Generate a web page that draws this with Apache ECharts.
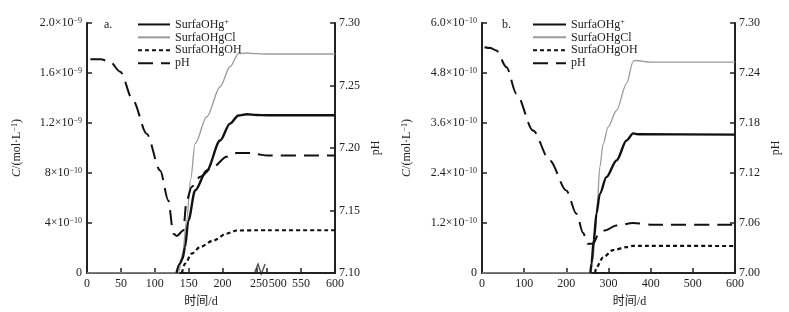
<!DOCTYPE html>
<html><head><meta charset="utf-8">
<script src="https://cdn.jsdelivr.net/npm/echarts@6/dist/echarts.min.js"></script>
<style>html,body{margin:0;padding:0;background:#fff}#c{width:789px;height:312px}</style>
</head><body><div id="c"></div>
<script>
// ---------- DATA (concentrations in units of 1e-10 mol/L) ----------
const seriesNames = ['SurfaOHg+', 'SurfaOHgCl', 'SurfaOHgOH', 'pH'];

// Panel a (time in days; the axis is broken between 250 and 500)
const a_tHg   = [132, 137, 141, 144.7, 149.6, 159.5, 176.7, 196.5, 211, 223.5, 236, 250, 500, 600];
const a_Hg    = [0, 0.75, 1.15, 2.08, 4.2, 6.6, 8.2, 10.6, 11.95, 12.6, 12.7, 12.64, 12.62, 12.62];
const a_tCl   = [0, 135, 141, 147, 153, 159.5, 176.7, 196.5, 211, 223.5, 236, 250, 500, 600];
const a_Cl    = [0, 0, 1.55, 4.2, 7.5, 10.35, 12.5, 14.9, 16.5, 17.55, 17.6, 17.55, 17.52, 17.52];
const a_tOH   = [140, 144.7, 154.6, 167, 186.6, 206, 221, 250, 500, 600];
const a_OH    = [0, 0.75, 1.55, 2.08, 2.6, 3.15, 3.4, 3.42, 3.42, 3.42];
const a_tPH   = [5, 20, 34, 49, 68, 88, 108, 120, 127.5, 132.5, 142, 147, 154.6, 167, 186.6, 206, 221, 240, 250, 500, 600];
const a_PH    = [7.271, 7.271, 7.269, 7.261, 7.238, 7.2115, 7.182, 7.158, 7.1315, 7.1296, 7.134, 7.158, 7.169, 7.177, 7.185, 7.193, 7.196, 7.196, 7.195, 7.194, 7.194];

// Panel b
const b_tHg   = [257, 259.7, 265, 271.5, 279.4, 295, 319, 342.8, 358.5, 370, 600];
const b_Hg    = [0, 0.23, 0.79, 1.43, 1.9, 2.3, 2.7, 3.18, 3.35, 3.33, 3.32];
const b_tCl   = [0, 258, 263, 267.6, 273, 279.4, 287.4, 299, 319, 342.8, 358.5, 365, 400, 600];
const b_Cl    = [0, 0, 0.3, 0.79, 1.6, 2.54, 3.1, 3.5, 3.9, 4.55, 5.08, 5.1, 5.06, 5.06];
const b_tOH   = [268, 271.6, 287.4, 311, 342.8, 358, 600];
const b_OH    = [0, 0.14, 0.38, 0.55, 0.62, 0.65, 0.648];
const b_tPH   = [6, 20, 34, 58, 81.7, 121, 160.7, 200, 224, 240, 250, 263, 276, 291, 319, 358.6, 400, 600];
const b_PH    = [7.271, 7.270, 7.267, 7.247, 7.215, 7.171, 7.135, 7.099, 7.071, 7.048, 7.035, 7.035, 7.046, 7.051, 7.057, 7.060, 7.058, 7.058];

// Tick values / labels
const a_xTicks = [0, 50, 100, 150, 200, 250, 500, 550, 600];
const b_xTicks = [0, 100, 200, 300, 400, 500, 600];
const a_yTicks = [0, 4, 8, 12, 16, 20];
const a_yLabels = ['0', '4×10{s|−10}', '8×10{s|−10}', '1.2×10{s|−9}', '1.6×10{s|−9}', '2.0×10{s|−9}'];
const b_yTicks = [0, 1.2, 2.4, 3.6, 4.8, 6.0];
const b_yLabels = ['0', '1.2×10{s|−10}', '2.4×10{s|−10}', '3.6×10{s|−10}', '4.8×10{s|−10}', '6.0×10{s|−10}'];
const a_pHTicks = [7.10, 7.15, 7.20, 7.25, 7.30];
const b_pHTicks = [7.00, 7.06, 7.12, 7.18, 7.24, 7.30];

// Broken axis in panel a: days 250..500 are compressed to a small gap
const BREAK_FROM = 250, BREAK_TO = 500, BREAK_GAP = 16;
const uA = t => t <= BREAK_FROM ? t : t - (BREAK_TO - BREAK_FROM) + BREAK_GAP;
const BREAK_MARK = BREAK_FROM + BREAK_GAP * 0.3;

// ---------- CHART ----------
const FONT = '"Liberation Serif", "Times New Roman", "Noto Sans CJK SC", serif';
const TXT = '#222';
const zipA = (ts, vs) => ts.map((t, i) => [uA(t), vs[i]]);
const zip = (ts, vs) => ts.map((t, i) => [t, vs[i]]);

const styles = {
  'SurfaOHg+': {color: '#111', width: 2.4, type: 'solid'},
  'SurfaOHgCl': {color: '#9a9a9a', width: 1.3, type: 'solid'},
  'SurfaOHgOH': {color: '#111', width: 2.2, type: [4, 3]},
  'pH': {color: '#111', width: 2, type: [15, 8]}
};
function line(name, data, xi, yi) {
  const s = styles[name];
  return {
    name, type: 'line', data, xAxisIndex: xi, yAxisIndex: yi,
    symbol: 'none', smooth: 0.3, smoothMonotone: 'x', silent: true,
    lineStyle: {color: s.color, width: s.width, type: s.type},
    itemStyle: {color: s.color}, z: name === 'SurfaOHgCl' ? 2 : 3
  };
}
const supStyle = {fontSize: 8, fontFamily: FONT, color: TXT, verticalAlign: 'top', lineHeight: 8};
function pickIdx(ticks, v) {
  let best = 0;
  ticks.forEach((t, i) => { if (Math.abs(t - v) < Math.abs(ticks[best] - v)) best = i; });
  return best;
}
function leftY(grid, ticks, labels, max, interval) {
  return {
    type: 'value', gridIndex: grid, position: 'left', min: 0, max, interval,
    name: '{i|C}/(mol·L{s|−1})', nameLocation: 'middle', nameGap: grid === 0 ? 64 : 69,
    nameTextStyle: {fontFamily: FONT, fontSize: 12, color: TXT,
      rich: {i: {fontStyle: 'italic', fontFamily: FONT, fontSize: 12, color: TXT}, s: supStyle}},
    axisLine: {show: true, lineStyle: {color: TXT, width: 2}},
    axisTick: {show: true, inside: true, length: 5, lineStyle: {color: TXT, width: 1.5}, customValues: ticks},
    axisLabel: {customValues: ticks, margin: 5, fontFamily: FONT, fontSize: 12, color: TXT,
      formatter: v => labels[pickIdx(ticks, v)], rich: {s: supStyle}},
    splitLine: {show: false}
  };
}
function rightY(grid, ticks, min, max) {
  return {
    type: 'value', gridIndex: grid, position: 'right', min, max,
    name: 'pH', nameLocation: 'middle', nameGap: 35,
    nameTextStyle: {fontFamily: FONT, fontSize: 12, color: TXT},
    axisLine: {show: true, lineStyle: {color: TXT, width: 2}},
    axisTick: {show: true, inside: true, length: 5, lineStyle: {color: TXT, width: 1.5}, customValues: ticks},
    axisLabel: {customValues: ticks, margin: 4, fontFamily: FONT, fontSize: 12, color: TXT, formatter: v => v.toFixed(2)},
    splitLine: {show: false}
  };
}
function xAx(grid, ticksU, labels, max, padName, labelFmt) {
  return {
    type: 'value', gridIndex: grid, min: 0, max,
    name: '时间/d', nameLocation: 'middle', nameGap: 23,
    nameTextStyle: {fontFamily: FONT, fontSize: 12, color: TXT, padding: padName},
    axisLine: {show: true, onZero: false, lineStyle: {color: TXT, width: 2}},
    axisTick: {show: true, inside: true, length: 5, lineStyle: {color: TXT, width: 1.5}, customValues: ticksU},
    axisLabel: {customValues: ticksU, margin: 5, fontFamily: FONT, fontSize: 12, color: TXT, hideOverlap: false,
      formatter: v => labelFmt(labels[pickIdx(ticksU, v)]),
      rich: {l: {fontFamily: FONT, fontSize: 12, color: TXT, padding: [0, 0, 0, 5]},
             r: {fontFamily: FONT, fontSize: 12, color: TXT, padding: [0, 0, 0, 21]}}},
    splitLine: {show: false}
  };
}
function legend(left, w) {
  return {
    left, top: 13, orient: 'vertical', itemWidth: w, itemHeight: 12.9, itemGap: 0,
    data: seriesNames, selectedMode: false,
    itemStyle: {opacity: 0},
    textStyle: {fontFamily: FONT, fontSize: 12, color: TXT, lineHeight: 12.9, rich: {s: supStyle}},
    formatter: n => n === 'SurfaOHg+' ? 'SurfaOHg{s|+}' : n
  };
}

const option = {
  animation: false,
  backgroundColor: '#fff',
  textStyle: {fontFamily: FONT},
  title: [
    {text: 'a.', left: 99, top: 14, textStyle: {fontFamily: FONT, fontSize: 12, fontWeight: 'normal', color: TXT}},
    {text: 'b.', left: 497, top: 14, textStyle: {fontFamily: FONT, fontSize: 12, fontWeight: 'normal', color: TXT}}
  ],
  legend: [legend(132, 32), legend(527, 33)],
  grid: [
    {left: 87, top: 23, width: 248, bottom: 39, containLabel: false, outerBoundsMode: 'none'},
    {left: 482, top: 23, width: 253, bottom: 39, containLabel: false, outerBoundsMode: 'none'}
  ],
  xAxis: [
    xAx(0, a_xTicks.map(uA), a_xTicks, uA(600), [0, 0, 0, -20],
        l => l === BREAK_FROM ? '{l|' + l + '}' : (l === BREAK_TO ? '{r|' + l + '}' : String(l))),
    xAx(1, b_xTicks, b_xTicks, 600, [0, 0, 0, 42], l => String(l))
  ],
  yAxis: [
    leftY(0, a_yTicks, a_yLabels, 20, 4),
    rightY(0, a_pHTicks, 7.10, 7.30),
    leftY(1, b_yTicks, b_yLabels, 6, 1.2),
    rightY(1, b_pHTicks, 7.00, 7.30)
  ],
  series: [
    line('SurfaOHgCl', zipA(a_tCl, a_Cl), 0, 0),
    line('SurfaOHg+', zipA(a_tHg, a_Hg), 0, 0),
    line('SurfaOHgOH', zipA(a_tOH, a_OH), 0, 0),
    line('pH', zipA(a_tPH, a_PH), 0, 1),
    line('SurfaOHgCl', zip(b_tCl, b_Cl), 1, 2),
    line('SurfaOHg+', zip(b_tHg, b_Hg), 1, 2),
    line('SurfaOHgOH', zip(b_tOH, b_OH), 1, 2),
    line('pH', zip(b_tPH, b_PH), 1, 3),
    {
      type: 'scatter', xAxisIndex: 0, yAxisIndex: 0, silent: true, z: 10,
      data: [[BREAK_MARK, 0]],
      symbol: 'path://M0,10 L3.5,0 L6.5,10 L10,0', symbolSize: [11, 10], symbolOffset: [0, -4],
      itemStyle: {color: 'transparent', borderColor: TXT, borderWidth: 1.3}
    }
  ]
};
const chart = echarts.init(document.getElementById('c'), null, {renderer: 'canvas'});
chart.setOption(option);
</script></body></html>
